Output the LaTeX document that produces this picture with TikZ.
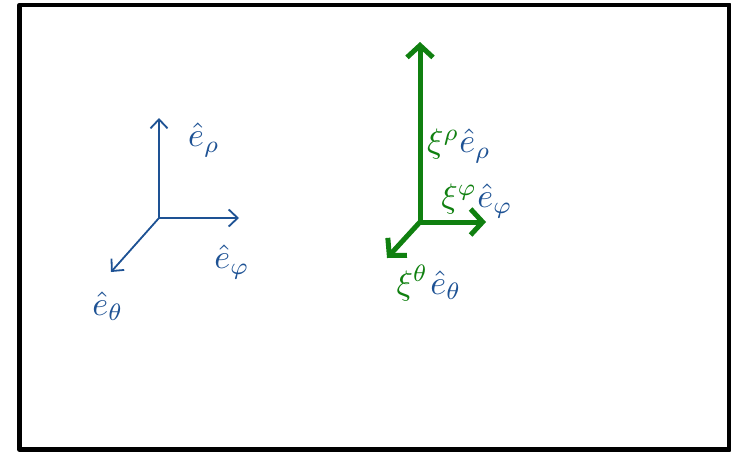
\documentclass[tikz,border=0pt]{standalone}
\usetikzlibrary{arrows.meta}
\definecolor{vblue}{RGB}{30,82,148}
\definecolor{vgreen}{RGB}{16,128,16}
\begin{document}
\begin{tikzpicture}[x=1pt,y=-1pt,
  bluearrow/.style={draw=vblue,line width=1.8pt,-{Straight Barb[length=9pt,width=17pt,line width=1.8pt]}},
  greenarrow/.style={draw=vgreen,line width=5pt,-{Straight Barb[length=12pt,width=26pt,line width=5pt]}},
  lbl/.style={inner sep=0pt,scale=3.4,transform shape}]
\useasboundingbox (0,0) rectangle (731,455);
\draw[line width=4.5pt,line join=round] (19.5,5) rectangle (729.5,449.5);
% left (unit vectors)
\coordinate (o1) at (159,218);
\coordinate (r1) at (159,118);
\coordinate (p1) at (239,218);
\coordinate (t1) at (111,272);
\draw[bluearrow] (o1) -- (r1);
\draw[bluearrow] (o1) -- (p1);
\draw[bluearrow] (o1) -- (t1);
\node[lbl,text=vblue] (lr1) at (204,140) {$\hat{e}_\rho$};
\node[lbl,text=vblue] (lp1) at (232,262) {$\hat{e}_\varphi$};
\node[lbl,text=vblue] (lt1) at (108,306) {$\hat{e}_\theta$};
% right (components)
\coordinate (o2) at (420,222);
\coordinate (r2) at (420,42);
\coordinate (p2) at (486,222);
\coordinate (t2) at (387,258);
\draw[greenarrow] (o2) -- (r2);
\draw[greenarrow] (o2) -- (p2);
\draw[greenarrow] (o2) -- (t2);
\node[lbl] (lr2) at (459,146) {$\color{vgreen}\xi^\rho\color{vblue}\hat{e}_\rho$};
\node[lbl] (lp2) at (477,201) {$\color{vgreen}\xi^\varphi\color{vblue}\hat{e}_\varphi$};
\node[lbl] (lt2) at (429,283) {$\color{vgreen}\xi^\theta\mkern1mu\color{vblue}\hat{e}_\theta$};
\end{tikzpicture}
\end{document}
